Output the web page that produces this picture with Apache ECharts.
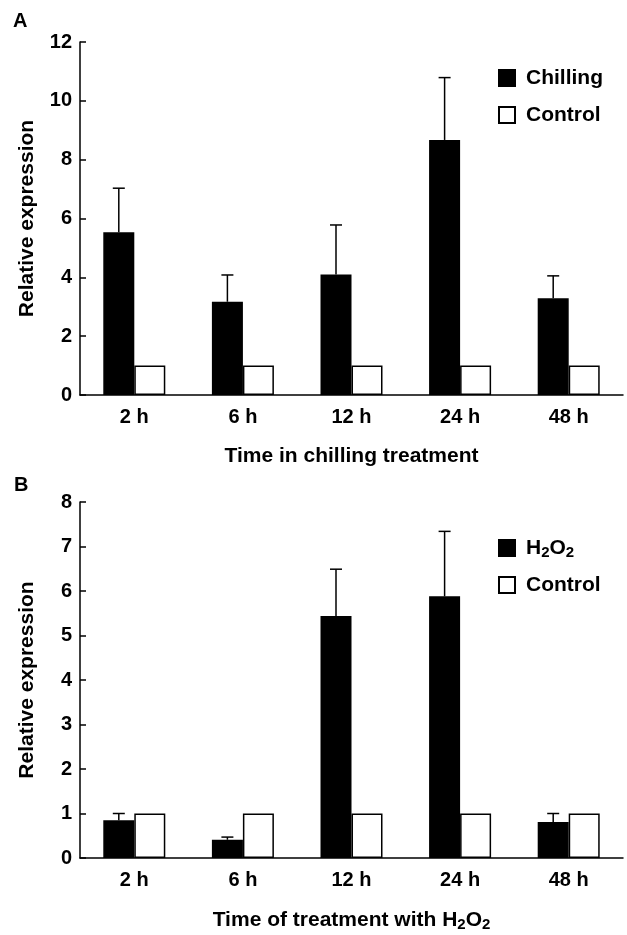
<!DOCTYPE html>
<html>
<head>
<meta charset="utf-8">
<script src="https://cdn.jsdelivr.net/npm/echarts@6/dist/echarts.min.js"></script>
<style>
html,body{margin:0;padding:0;background:#fff;}
#chart{width:627px;height:935px;}
</style>
</head>
<body>
<div id="chart"></div>
<script>
// ---- data ----
const categories = ['2 h', '6 h', '12 h', '24 h', '48 h'];
// Panel A
const chillingMean = [5.53, 3.17, 4.10, 8.67, 3.29];
const chillingSD   = [1.50, 0.91, 1.68, 2.12, 0.76];
const controlA     = [1, 1, 1, 1, 1];
const yTicksA = { min: 0, max: 12, interval: 2 };
// Panel B
const h2o2Mean = [0.85, 0.41, 5.44, 5.88, 0.81];
const h2o2SD   = [0.15, 0.06, 1.05, 1.46, 0.19];
const controlB = [1, 1, 1, 1, 1];
const yTicksB = { min: 0, max: 8, interval: 1 };

// ---- style ----
const FONT = 'Liberation Sans';
const BAR_W = 31;
const CAP = 6;
const subRich = {
  s: { fontFamily: FONT, fontWeight: 'bold', fontSize: 15, color: '#000', verticalAlign: 'bottom', lineHeight: 13 }
};

function errorSeries(mean, sd, xi, yi) {
  return {
    type: 'custom',
    xAxisIndex: xi, yAxisIndex: yi,
    silent: true, z: 5,
    data: mean.map((m, i) => [i, m + sd[i], m]),
    renderItem: function (params, api) {
      const i = api.value(0);
      const top = api.coord([i, api.value(1)]);
      const base = api.coord([i, api.value(2)]);
      const x = top[0] - BAR_W / 2;
      const st = { stroke: '#000', lineWidth: 1.5 };
      return {
        type: 'group',
        children: [
          { type: 'line', shape: { x1: x, y1: base[1], x2: x, y2: top[1] }, style: st },
          { type: 'line', shape: { x1: x - CAP, y1: top[1], x2: x + CAP, y2: top[1] }, style: st }
        ]
      };
    }
  };
}

function xAxisDef(gridIndex, name, gap) {
  return {
    type: 'category', gridIndex: gridIndex, data: categories,
    axisLine: { lineStyle: { color: '#000', width: 1.5 } },
    axisTick: { inside: true, length: 6, lineStyle: { color: '#000', width: 1.5 } },
    axisLabel: { color: '#000', fontFamily: FONT, fontWeight: 'bold', fontSize: 20, margin: 12 },
    name: name, nameLocation: 'middle', nameGap: gap,
    nameTextStyle: { color: '#000', fontFamily: FONT, fontWeight: 'bold', fontSize: 21, lineHeight: 24, rich: subRich }
  };
}
function yAxisDef(gridIndex, t) {
  return {
    type: 'value', gridIndex: gridIndex, min: t.min, max: t.max, interval: t.interval,
    splitLine: { show: false },
    axisLine: { show: true, lineStyle: { color: '#000', width: 1.5 } },
    axisTick: { show: true, inside: true, length: 6, lineStyle: { color: '#000', width: 1.5 } },
    axisLabel: { color: '#000', fontFamily: FONT, fontWeight: 'bold', fontSize: 20, margin: 8 },
    name: 'Relative expression', nameLocation: 'middle', nameRotate: 90, nameGap: 42,
    nameTextStyle: { color: '#000', fontFamily: FONT, fontWeight: 'bold', fontSize: 21 }
  };
}
function barSeries(name, data, xi, yi, fill) {
  return {
    type: 'bar', name: name, data: data, xAxisIndex: xi, yAxisIndex: yi,
    barWidth: BAR_W, barGap: '0%',
    itemStyle: { color: fill, borderColor: '#000', borderWidth: 1.5 },
    emphasis: { disabled: true }
  };
}
function legendDef(names, top) {
  return {
    data: names.map(n => ({ name: n })),
    orient: 'vertical', left: 498, top: top, padding: 0,
    icon: 'rect', itemWidth: 16, itemHeight: 16, itemGap: 13,
    selectedMode: false,
    formatter: function (n) { return n === 'H2O2' ? 'H{s|2}O{s|2}' : n; },
    textStyle: { color: '#000', fontFamily: FONT, fontWeight: 'bold', fontSize: 21, lineHeight: 24, padding: [0, 0, 0, 6], rich: subRich }
  };
}

const chart = echarts.init(document.getElementById('chart'), null, { renderer: 'canvas' });
chart.setOption({
  animation: false,
  backgroundColor: '#fff',
  graphic: [
    { type: 'text', left: 13, top: 11, style: { text: 'A', fontFamily: FONT, fontWeight: 'bold', fontSize: 20, fill: '#000' } },
    { type: 'text', left: 14, top: 475, style: { text: 'B', fontFamily: FONT, fontWeight: 'bold', fontSize: 20, fill: '#000' } }
  ],
  grid: [
    { left: 80, top: 42, right: 4, height: 353 },
    { left: 80, top: 502, right: 4, height: 356 }
  ],
  legend: [legendDef(['Chilling', 'Control'], 66), legendDef(['H2O2', 'Control'], 536)],
  xAxis: [xAxisDef(0, 'Time in chilling treatment', 49), xAxisDef(1, 'Time of treatment with H{s|2}O{s|2}', 50)],
  yAxis: [yAxisDef(0, yTicksA), yAxisDef(1, yTicksB)],
  series: [
    barSeries('Chilling', chillingMean, 0, 0, '#000'),
    barSeries('Control', controlA, 0, 0, '#fff'),
    errorSeries(chillingMean, chillingSD, 0, 0),
    barSeries('H2O2', h2o2Mean, 1, 1, '#000'),
    barSeries('Control', controlB, 1, 1, '#fff'),
    errorSeries(h2o2Mean, h2o2SD, 1, 1)
  ]
});
</script>
</body>
</html>
